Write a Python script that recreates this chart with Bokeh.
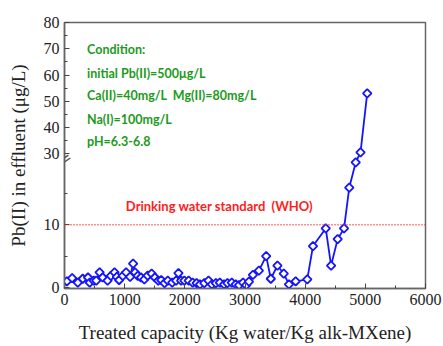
from bokeh.plotting import figure
from bokeh.models import (ColumnDataSource, FixedTicker, CustomJSTickFormatter,
                          Label, Range1d, Span)
from bokeh.embed import file_html
from bokeh.resources import INLINE

# ---- data ----
capacity = [40, 127, 221, 304, 391, 419, 485, 528, 584, 634, 716, 771, 832, 870,
            908, 969, 1024, 1090, 1140, 1172, 1217, 1271, 1327, 1382, 1448, 1502,
            1558, 1608, 1663, 1717, 1790, 1855, 1894, 1938, 1993, 2064, 2130, 2196,
            2252, 2323, 2394, 2450, 2516, 2582, 2653, 2708, 2780, 2846, 2901, 2967,
            3021, 3066, 3132, 3231, 3352, 3429, 3539, 3644, 3731, 3842, 4035, 4130,
            4342, 4431, 4540, 4646, 4733, 4840, 4920, 5031]
pb_effluent = [1.0, 1.5, 0.8, 1.4, 1.6, 0.8, 1.1, 1.1, 2.4, 1.6, 1.1, 1.85, 2.4, 1.7,
               1.2, 1.85, 2.4, 1.7, 3.8, 2.4, 1.85, 1.6, 1.3, 1.9, 2.2, 1.6,
               1.1, 1.2, 0.7, 1.1, 0.8, 1.1, 2.3, 1.1, 1.1, 1.1, 0.8, 0.7,
               0.5, 0.7, 1.1, 0.5, 0.7, 0.8, 0.5, 0.7, 0.8, 0.5, 0.4, 0.8,
               0.4, 0.95, 2.0, 2.7, 5.0, 1.4, 3.5, 2.2, 0.5, 1.0, 1.3, 6.6,
               9.4, 3.5, 7.7, 9.4, 15.9, 19.9, 30.5, 53.0]
who_limit = 10
y_major = [0, 10, 30, 40, 50, 60, 70, 80]
y_minor = [5, 15, 35, 45, 55, 65, 75]
x_ticks = [0, 1000, 2000, 3000, 4000, 5000, 6000]
x_minor = [500, 1500, 2500, 3500, 4500, 5500]
condition_lines = ["Condition:", "initial Pb(II)=500\u03bcg/L",
                   "Ca(II)=40mg/L\u00a0\u00a0Mg(II)=80mg/L", "Na(I)=100mg/L", "pH=6.3-6.8"]
who_text = "Drinking water standard\u00a0\u00a0(WHO)"

# ---- broken y axis: lower 0-20, upper 30-80 compressed ----
LOW_TOP = 20.0
GAP = 1.27
UP_START = 30.0
R = 0.4175


def disp(v):
    return v if v <= LOW_TOP + 0.5 else LOW_TOP + GAP + (v - UP_START) * R


ytop = disp(80)

p = figure(width=443, height=346, output_backend="svg", toolbar_location=None,
           x_range=Range1d(0, 6000), y_range=Range1d(-0.15, ytop),
           min_border_left=64, min_border_right=18, min_border_top=22,
           min_border_bottom=58)
p.xgrid.visible = False
p.ygrid.visible = False
p.outline_line_color = "#666666"
p.outline_line_width = 1.5
p.background_fill_color = "white"
p.border_fill_color = "white"

src = ColumnDataSource(dict(x=capacity, y=[disp(v) for v in pb_effluent]))
blue = "#1414ff"
p.line("x", "y", source=src, line_color=blue, line_width=1.8)
p.scatter("x", "y", source=src, marker="square", angle=0.785398, size=6,
          line_color=blue, line_width=1.8, fill_color="white")

p.add_layout(Span(location=who_limit, dimension="width", line_color="#ff2020",
                  line_width=1.5, line_dash="1 2"))

# axes
serif = "Liberation Serif"
for ax in (p.xaxis[0], p.yaxis[0]):
    ax.axis_line_color = "#666666"
    ax.axis_line_width = 1.5
    ax.major_tick_line_color = "#444444"
    ax.minor_tick_line_color = "#444444"
    ax.major_tick_in = 5
    ax.major_tick_out = 0
    ax.minor_tick_in = 3
    ax.minor_tick_out = 0
    ax.major_label_text_font = serif
    ax.major_label_text_font_size = "16px"
    ax.major_label_text_color = "#222222"
    ax.axis_label_text_font = serif
    ax.axis_label_text_font_style = "normal"
    ax.axis_label_text_font_size = "19px"
    ax.axis_label_text_color = "#222222"

p.xaxis.ticker = FixedTicker(ticks=x_ticks, minor_ticks=x_minor)
p.xaxis.axis_label = "Treated capacity (Kg water/Kg alk-MXene)"
p.xaxis.major_label_standoff = 5
p.xaxis.axis_label_standoff = 14

p.yaxis.ticker = FixedTicker(ticks=[disp(t) for t in y_major],
                             minor_ticks=[disp(t) for t in y_minor])
p.yaxis.formatter = CustomJSTickFormatter(
    args=dict(lt=LOW_TOP, gap=GAP, us=UP_START, r=R),
    code="""
    if (tick <= lt + 0.5) { return Math.round(tick).toString(); }
    return Math.round(us + (tick - lt - gap) / r).toString();
    """)
p.yaxis.axis_label = "Pb(II) in effluent (\u03bcg/L)"
p.yaxis.major_label_standoff = 5
p.yaxis.axis_label_standoff = 12

# condition text
green = "#1c9a1c"
ys = [37.8, 34.1, 30.5, 26.8, 23.3]
for t, yy in zip(condition_lines, ys):
    p.add_layout(Label(x=375, y=yy, text=t, text_font="Lato", text_font_style="bold",
                       text_font_size="12.5px", text_color=green, text_baseline="middle"))

p.add_layout(Label(x=1020, y=13.0, text=who_text, text_font="Lato",
                   text_font_style="bold", text_font_size="13px", text_color="#ff2020",
                   text_baseline="middle"))

# break marks on the y axis
p.add_layout(Label(x=0, y=(LOW_TOP + disp(UP_START)) / 2 - 0.2, text="=", text_font="DejaVu Sans",
                   text_font_size="17px", text_color="#555555", angle=0.6,
                   text_align="center", text_baseline="middle",
                   background_fill_color=None))

open("out.html", "w").write(file_html(p, INLINE))
